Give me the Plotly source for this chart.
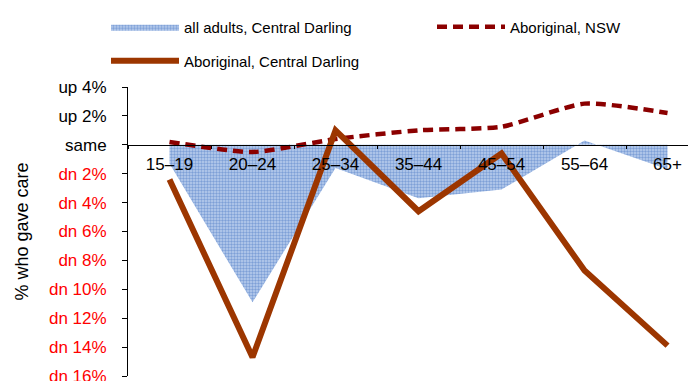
import plotly.graph_objects as go

categories = ["15–19", "20–24", "25–34", "35–44", "45–54", "55–64", "65+"]
all_adults_cd = [-1.3, -10.9, -1.6, -3.7, -3.1, 0.3, -1.7]
aboriginal_nsw = [0.2, -0.5, 0.4, 1.0, 1.25, 2.85, 2.2]
aboriginal_cd = [-2.4, -14.7, 1.0, -4.6, -0.6, -8.7, -13.9]

tick_vals = [4, 2, 0, -2, -4, -6, -8, -10, -12, -14, -16]
tick_text = ["up 4%", "up 2%", "same"] + [
    "<span style='color:#ff0000'>dn %d%%</span>" % abs(v) for v in tick_vals[3:]
]

FONT = "Liberation Sans, Arial, sans-serif"
W, H = 696, 381
OFF = 8  # page body margin offset


def leg(xpx, ypx):
    return dict(orientation="h", xref="container", yref="container",
                x=(xpx - OFF) / W, y=1 - (ypx - OFF) / H,
                xanchor="left", yanchor="middle",
                font=dict(size=15), itemwidth=68,
                bgcolor="rgba(0,0,0,0)", borderwidth=0)


fig = go.Figure()
fig.add_trace(go.Scatter(
    x=categories, y=all_adults_cd, name="all adults, Central Darling",
    mode="lines", fill="tozeroy", line=dict(width=0, color="#4472c4"),
    fillcolor="rgba(0,0,0,0)",
    fillpattern=dict(shape=".", fgcolor="#3f6fc0", bgcolor="#bccfee",
                     size=3, solidity=0.5),
    legend="legend", showlegend=True,
))
fig.add_trace(go.Scatter(
    x=categories, y=aboriginal_nsw, name="Aboriginal, NSW",
    mode="lines", line=dict(color="#8b0000", width=4.5, dash="10px,6px",
                            shape="spline", smoothing=0.6),
    legend="legend2", showlegend=True,
))
fig.add_trace(go.Scatter(
    x=categories, y=aboriginal_cd, name="Aboriginal, Central Darling",
    mode="lines", line=dict(color="#9c3600", width=6),
    legend="legend3", showlegend=True,
))

fig.update_layout(
    width=W, height=H, showlegend=True,
    margin=dict(l=128 - OFF, r=OFF, t=87 - OFF, b=5 + OFF),
    paper_bgcolor="white", plot_bgcolor="white",
    font=dict(family=FONT, size=17, color="black"),
    legend=leg(106, 27),
    legend2=leg(432, 27),
    legend3=leg(106, 61),
    xaxis=dict(type="category", range=[-0.5, 6.343], anchor="free",
               position=0.8, showline=True, linecolor="black", linewidth=1,
               ticks="outside", ticklen=3, tickcolor="black",
               tickson="boundaries", showgrid=False, zeroline=False,
               ticklabelstandoff=4, tickfont=dict(size=17), automargin=False),
    yaxis=dict(range=[-16, 4], tickvals=tick_vals, ticktext=tick_text,
               showline=True, linecolor="black", linewidth=1,
               ticks="outside", ticklen=5, tickcolor="black",
               showgrid=False, zeroline=False, ticklabelstandoff=12,
               tickfont=dict(size=17), automargin=False,
               title=dict(text="% who gave care", font=dict(size=18), standoff=15)),
)

fig.write_html("out.html")
